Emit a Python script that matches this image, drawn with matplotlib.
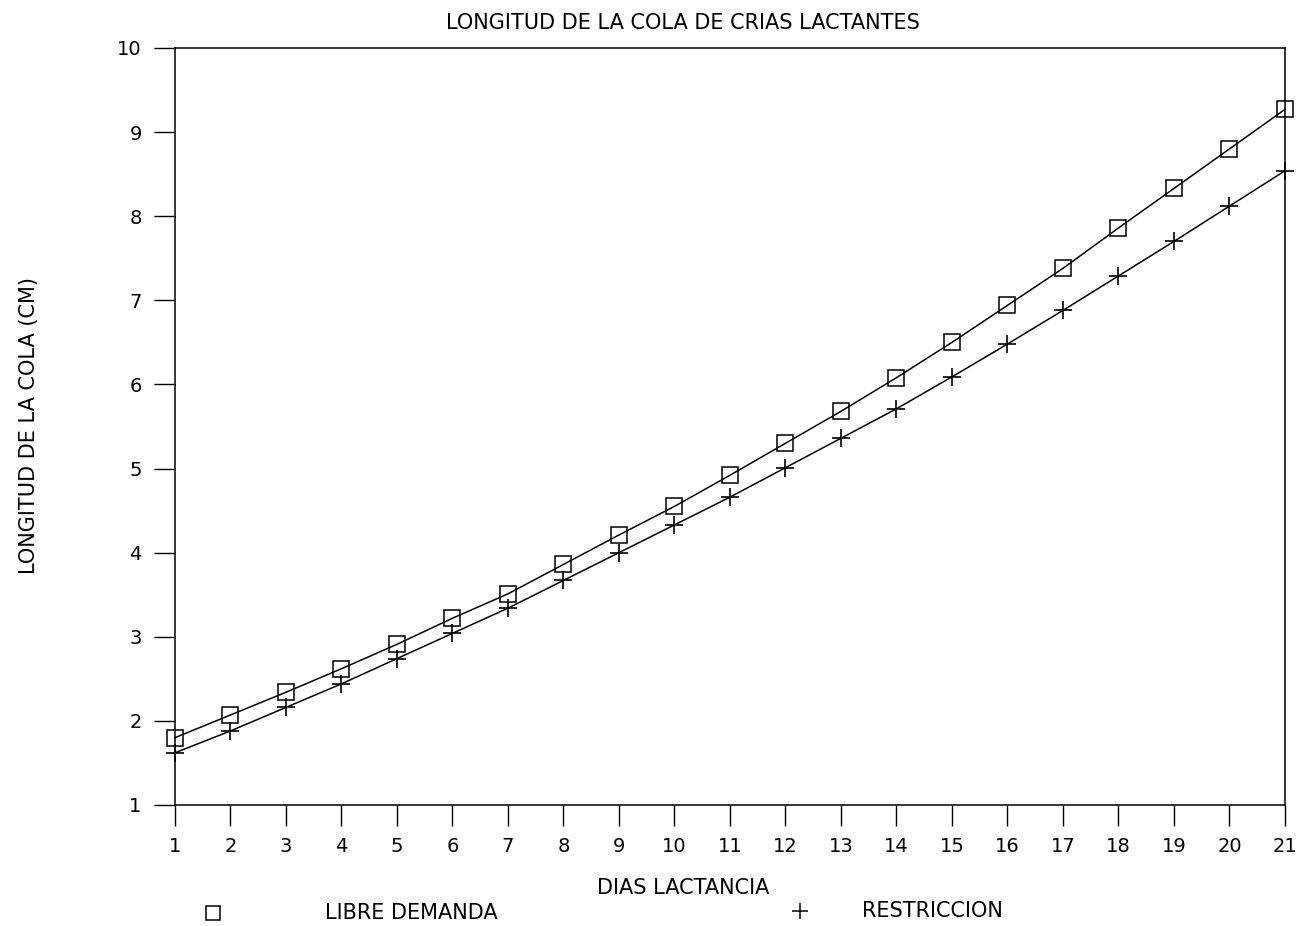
import numpy as np
import matplotlib
matplotlib.use("Agg")
import matplotlib.pyplot as plt
from matplotlib.lines import Line2D

dias = list(range(1, 22))
libre_demanda = [1.80, 2.07, 2.34, 2.62, 2.91, 3.22, 3.51, 3.86, 4.21, 4.55, 4.92,
                 5.30, 5.68, 6.08, 6.50, 6.94, 7.38, 7.86, 8.33, 8.80, 9.27]
restriccion = [1.62, 1.88, 2.16, 2.44, 2.74, 3.04, 3.34, 3.67, 4.00, 4.33, 4.66,
               5.01, 5.36, 5.71, 6.09, 6.48, 6.88, 7.29, 7.70, 8.12, 8.54]

plt.rcParams["font.family"] = ["DejaVu Sans"]

fig = plt.figure(figsize=(12.96, 9.26), dpi=100)
ax = fig.add_axes([0.135, 0.1307, 0.8565, 0.8175])

ax.plot(dias, libre_demanda, color="black", linewidth=1.1, marker="s", markersize=12,
        markerfacecolor="none", markeredgecolor="black", markeredgewidth=1.1, clip_on=False)
ax.plot(dias, restriccion, color="black", linewidth=1.1, marker="+", markersize=13,
        markeredgewidth=1.2, clip_on=False)

ax.set_xlim(1, 21)
ax.set_ylim(1, 10)
ax.set_xticks(dias)
ax.set_yticks(range(1, 11))
ax.tick_params(axis="both", direction="out", length=15, width=1, labelsize=14, pad=8,
               top=False, right=False)
ax.tick_params(axis="y", pad=9)
for s in ax.spines.values():
    s.set_linewidth(1.1)

# title / labels centred like the original, a bit left of the axes centre
fig.text(0.527, 0.975, "LONGITUD DE LA COLA DE CRIAS LACTANTES", fontsize=15,
         ha="center", va="center")
fig.text(0.527, 0.041, "DIAS LACTANCIA", fontsize=15, ha="center", va="center")
fig.text(0.022, 0.54, "LONGITUD DE LA COLA (CM)", fontsize=15, rotation=90,
         ha="center", va="center")

fig.add_artist(Line2D([0.164], [0.014], marker="s", markersize=10, markerfacecolor="none",
                      markeredgecolor="black", markeredgewidth=1.1, transform=fig.transFigure))
fig.text(0.251, 0.014, "LIBRE DEMANDA", fontsize=15, va="center")
fig.add_artist(Line2D([0.617], [0.016], marker="+", markersize=11, color="black",
                      markeredgewidth=1.1, transform=fig.transFigure))
fig.text(0.665, 0.016, "RESTRICCION", fontsize=15, va="center")

fig.savefig("out.png", dpi=100)
